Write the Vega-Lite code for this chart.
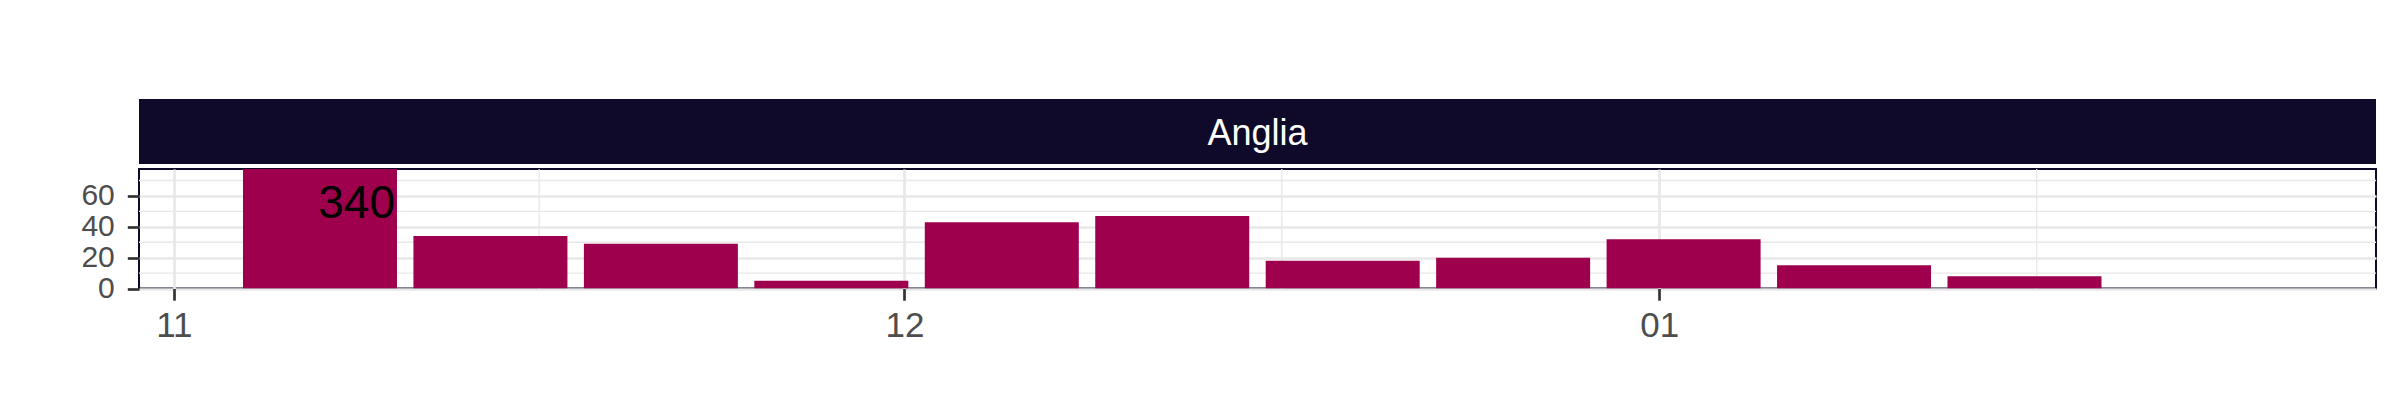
{
  "$schema": "https://vega.github.io/schema/vega-lite/v6.json",
  "background": "white",
  "padding": {"left": 79, "top": 99, "right": 0, "bottom": 0},
  "spacing": 3,
  "config": {
    "font": "Liberation Sans",
    "view": {"stroke": null},
    "axis": {"title": null, "domain": false, "grid": true, "gridColor": "#E8E8E8", "gridWidth": 2.7, "tickColor": "#333333", "tickWidth": 2.7, "tickSize": 11.7, "labelColor": "#4D4D4D", "labelFont": "Liberation Sans", "labelOverlap": false},
    "axisX": {"labelFontSize": 35, "labelPadding": 8, "format": "%m", "tickCount": {"interval": "month", "step": 1}},
    "axisY": {"labelFontSize": 30, "labelPadding": 13, "values": [0, 20, 40, 60], "labelOverlap": false}
  },
  "vconcat": [
    {
      "width": 2237,
      "height": 65,
      "view": {"fill": "#0F0A2A", "stroke": null},
      "data": {"values": [{"region": "Anglia"}]},
      "mark": {"type": "text", "color": "white", "fontSize": 36, "font": "Liberation Sans", "baseline": "middle", "align": "center", "dy": 2},
      "encoding": {"text": {"field": "region", "type": "nominal"}}
    },
    {
      "width": 2237,
      "height": 119.5,
      "view": {"stroke": "#0F0A2A", "strokeWidth": 2},
      "layer": [
        {
          "data": {"values": [{"v": 10}, {"v": 30}, {"v": 50}, {"v": 70}]},
          "mark": {"type": "rule", "color": "#E8E8E8", "strokeWidth": 1.4},
          "encoding": {
            "y": {"field": "v", "type": "quantitative", "scale": {"domain": [0, 77.5], "nice": false, "zero": true}, "axis": {"title": null}}
          }
        },
        {
          "data": {"values": [{"m": "2020-11-16T00:00:00Z"}, {"m": "2020-12-16T12:00:00Z"}, {"m": "2021-01-16T12:00:00Z"}]},
          "mark": {"type": "rule", "color": "#E8E8E8", "strokeWidth": 1.4},
          "encoding": {
            "x": {"field": "m", "type": "temporal", "scale": {"type": "utc", "domain": [{"year": 2020, "month": 10, "date": 30, "hours": 18, "minutes": 33, "utc": true}, {"year": 2021, "month": 1, "date": 30, "hours": 5, "minutes": 31, "utc": true}], "nice": false}, "axis": {"title": null}}
          }
        },
        {
          "data": {"name": "weekly"},
          "mark": {"type": "bar", "color": "#9E004D", "width": 154, "clip": true},
          "encoding": {
            "x": {"field": "week", "type": "temporal", "scale": {"type": "utc", "domain": [{"year": 2020, "month": 10, "date": 30, "hours": 18, "minutes": 33, "utc": true}, {"year": 2021, "month": 1, "date": 30, "hours": 5, "minutes": 31, "utc": true}], "nice": false}, "axis": {"title": null}},
            "y": {"field": "cases", "type": "quantitative", "scale": {"domain": [0, 77.5], "nice": false, "zero": true}, "axis": {"title": null}}
          }
        },
        {
          "data": {"name": "weekly"},
          "transform": [{"filter": "datum.cases > 77.5"}],
          "mark": {"type": "text", "color": "black", "fontSize": 46, "font": "Liberation Sans", "align": "right", "baseline": "alphabetic", "dx": 75},
          "encoding": {
            "x": {"field": "week", "type": "temporal", "scale": {"type": "utc", "domain": [{"year": 2020, "month": 10, "date": 30, "hours": 18, "minutes": 33, "utc": true}, {"year": 2021, "month": 1, "date": 30, "hours": 5, "minutes": 31, "utc": true}], "nice": false}, "axis": {"title": null}},
            "y": {"datum": 45.6, "type": "quantitative", "scale": {"domain": [0, 77.5], "nice": false, "zero": true}, "axis": {"title": null}},
            "text": {"field": "cases", "type": "quantitative"}
          }
        }
      ]
    }
  ],
  "datasets": {
    "weekly": [
      {"week": "2020-11-07", "cases": 340},
      {"week": "2020-11-14", "cases": 34},
      {"week": "2020-11-21", "cases": 29},
      {"week": "2020-11-28", "cases": 5},
      {"week": "2020-12-05", "cases": 43},
      {"week": "2020-12-12", "cases": 47},
      {"week": "2020-12-19", "cases": 18},
      {"week": "2020-12-26", "cases": 20},
      {"week": "2021-01-02", "cases": 32},
      {"week": "2021-01-09", "cases": 15},
      {"week": "2021-01-16", "cases": 8},
      {"week": "2021-01-23", "cases": 0}
    ]
  }
}
